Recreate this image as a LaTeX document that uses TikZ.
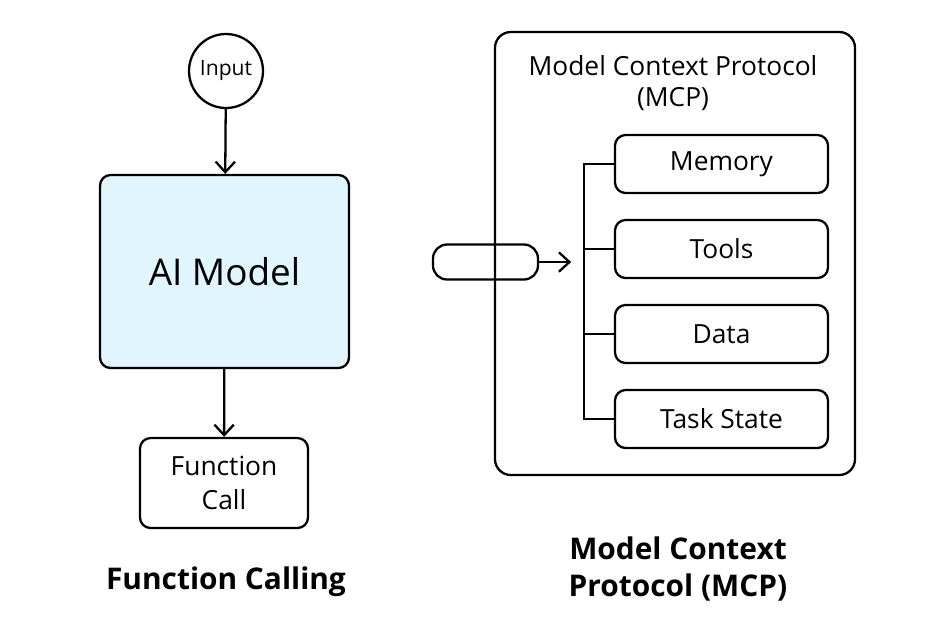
\documentclass[tikz,border=0pt]{standalone}
\usepackage{fontspec}
\setmainfont{Open Sans}
\usetikzlibrary{arrows.meta}
\tikzset{%
  myedge/.style={-{Straight Barb[length=6pt,width=11pt]}, line width=1.3pt},
  mybox/.style={draw=black, line width=1.3pt, rounded corners=6pt, align=center, font=\fontsize{15}{18}\selectfont},
  mytext/.style={align=center, font=\fontsize{17}{21}\selectfont\bfseries}
}
\begin{document}
\begin{tikzpicture}[x=0.02cm,y=-0.02cm]
  \useasboundingbox (0,0) rectangle (936,633);

  % left side
  \node[circle, draw=black, line width=1.3pt, minimum size=1.48cm, inner sep=0pt, font=\fontsize{12}{14}\selectfont] (input) at (226,71) {Input};
  \node[mybox, fill=cyan!12, minimum width=249*0.02cm, minimum height=193*0.02cm, font=\fontsize{21}{25}\selectfont] (ai) at (224.5,271.5) {AI Model};
  \node[mybox, minimum width=168*0.02cm, minimum height=90*0.02cm, font=\fontsize{15}{19}\selectfont] (call) at (224,483) {Function\\Call};
  \node[mytext] (fclabel) at (226,582) {Function Calling};

  \draw[myedge] (input) -- (ai);
  \draw[myedge] (ai) -- (call);

  % right side
  \node[mybox, minimum width=360*0.02cm, minimum height=443*0.02cm, rounded corners=9pt] (mcp) at (675,253.5) {};
  \node[align=center, font=\fontsize{15}{18}\selectfont] (title) at (673,83) {Model Context Protocol\\(MCP)};
  \node[mybox, minimum width=105*0.02cm, minimum height=35*0.02cm, rounded corners=8pt] (pill) at (485.5,262) {};
  \node[mybox, minimum width=213*0.02cm, minimum height=58*0.02cm] (mem) at (721.5,164) {Memory};
  \node[mybox, minimum width=213*0.02cm, minimum height=58*0.02cm] (tools) at (721.5,249) {Tools};
  \node[mybox, minimum width=213*0.02cm, minimum height=58*0.02cm] (data) at (721.5,334) {Data};
  \node[mybox, minimum width=213*0.02cm, minimum height=58*0.02cm] (task) at (721.5,419) {Task State};
  \node[mytext] (mcplabel) at (678,569) {Model Context\\Protocol (MCP)};

  \draw[myedge] (pill.east) -- ++(32,0);
  \draw[line width=1.3pt] (mem.west) -| (584,419) -- (task.west);
  \draw[line width=1.3pt] (584,249) -- (tools.west);
  \draw[line width=1.3pt] (584,334) -- (data.west);
\end{tikzpicture}
\end{document}
